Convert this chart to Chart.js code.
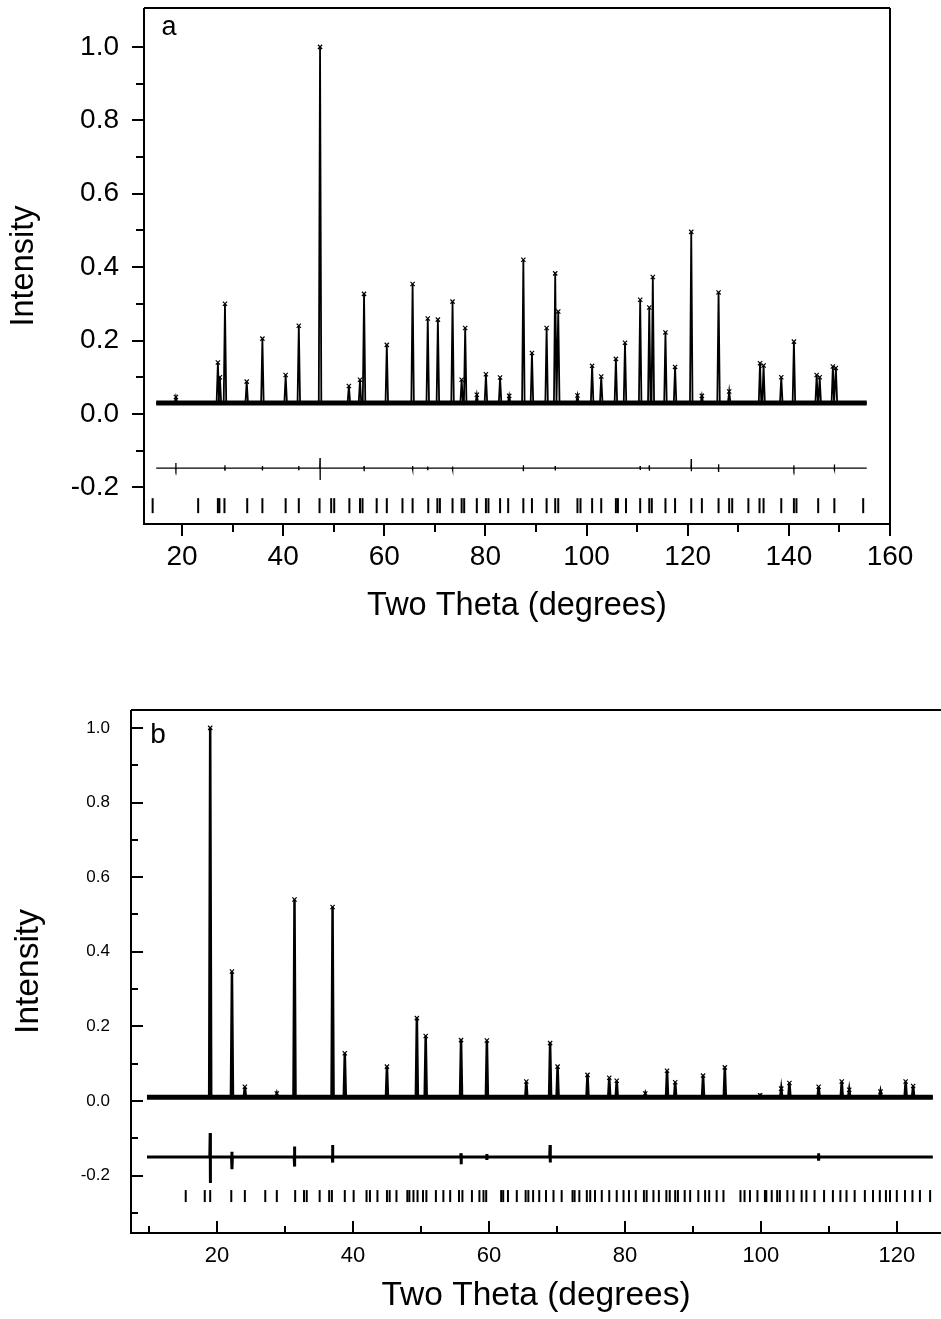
<!DOCTYPE html>
<html>
<head>
<meta charset="utf-8">
<script src="https://cdn.jsdelivr.net/npm/chart.js@4.4.0/dist/chart.umd.min.js"></script>
<style>
  html, body { margin: 0; padding: 0; background: #fff; }
  .panel { position: absolute; left: 0; width: 941px; }
  #wrapA { top: 0; height: 650px; }
  #wrapB { top: 650px; height: 669px; }
</style>
</head>
<body>
<div class="panel" id="wrapA"><canvas id="chartA"></canvas></div>
<div class="panel" id="wrapB"><canvas id="chartB"></canvas></div>
<script>
// ---- panel a: peak positions (2theta) and heights ----
const peakPosA = [18.8, 27.1, 27.5, 28.5, 32.8, 35.9, 40.5, 43.1, 47.3, 53.0, 55.2, 56.0, 60.5, 65.6, 68.6, 70.6,
  73.5, 75.3, 76.0, 78.3, 80.1, 82.9, 84.7, 87.5, 89.2, 92.1, 93.8, 94.4, 98.2, 101.1, 102.9, 105.8, 107.6,
  110.6, 112.4, 113.1, 115.6, 117.5, 120.7, 122.8, 126.1, 128.2, 134.3, 135.0, 138.5, 141.0, 145.5, 146.1, 148.7, 149.3];
const peakHtA = [0.046, 0.14, 0.10, 0.30, 0.088, 0.205, 0.106, 0.24, 1.0, 0.076, 0.093, 0.327, 0.188, 0.354, 0.26, 0.257,
  0.306, 0.093, 0.234, 0.052, 0.108, 0.099, 0.049, 0.42, 0.166, 0.234, 0.383, 0.279, 0.05, 0.131, 0.102, 0.15, 0.194,
  0.311, 0.29, 0.373, 0.222, 0.128, 0.496, 0.049, 0.331, 0.061, 0.138, 0.132, 0.1, 0.197, 0.106, 0.1, 0.129, 0.125];
const rangeA = [14.9, 155.4];
const baseA = 0.03;
// difference curve spikes
const diffBaseA = -0.148;
const diffPosA = [18.8, 28.5, 35.9, 43.1, 47.3, 56.0, 65.6, 68.6, 73.5, 87.5, 93.8, 110.6, 112.4, 120.7, 126.1, 141.0, 149.0];
const diffHiA = [-0.134, -0.14, -0.142, -0.142, -0.12, -0.142, -0.142, -0.143, -0.143, -0.14, -0.142, -0.142, -0.14, -0.123, -0.137, -0.14, -0.138];
const diffLoA = [-0.152, -0.155, -0.154, -0.153, -0.18, -0.156, -0.153, -0.153, -0.153, -0.156, -0.154, -0.153, -0.155, -0.156, -0.158, -0.152, -0.152];
// Bragg reflection marks
const reflA = [14.2, 23.2, 27.1, 27.4, 28.4, 32.9, 35.9, 40.5, 43.1, 47.2, 49.5, 50.1, 53.1, 55.2, 55.7, 58.5, 60.5,
  63.6, 65.6, 68.7, 70.5, 71.0, 73.5, 75.3, 75.8, 78.3, 80.1, 80.6, 82.9, 84.5, 87.5, 89.2, 92.1, 93.8, 94.4, 98.2,
  98.8, 101.1, 102.9, 105.8, 106.2, 107.8, 110.6, 112.4, 112.9, 115.6, 117.5, 120.7, 122.8, 126.1, 128.2, 128.8,
  132.0, 134.2, 135.0, 138.5, 141.0, 141.5, 145.8, 149.0, 154.7];
const reflLevelA = -0.25;
const xTicksA = [20, 40, 60, 80, 100, 120, 140, 160];
const xMinorA = [30, 50, 70, 90, 110, 130, 150];
const yTicksA = [-0.2, 0.0, 0.2, 0.4, 0.6, 0.8, 1.0];
const yMinorA = [-0.1, 0.1, 0.3, 0.5, 0.7, 0.9];

// ---- panel b ----
const peakPosB = [19.0, 22.2, 24.1, 28.8, 31.4, 37.0, 38.8, 45.0, 49.4, 50.7, 55.9, 59.7, 65.5, 69.0, 70.1, 74.5,
  77.7, 78.8, 83.0, 86.2, 87.4, 91.5, 94.7, 99.9, 103.0, 104.2, 108.5, 111.9, 113.0, 117.6, 121.3, 122.4];
const peakHtB = [1.0, 0.347, 0.038, 0.02, 0.54, 0.52, 0.128, 0.092, 0.222, 0.174, 0.163, 0.162, 0.052, 0.155, 0.092, 0.07,
  0.062, 0.054, 0.02, 0.081, 0.05, 0.068, 0.09, 0.015, 0.033, 0.048, 0.038, 0.052, 0.03, 0.025, 0.052, 0.04];
const rangeB = [9.7, 125.3];
const baseB = 0.01;
const diffBaseB = -0.15;
const diffPosB = [19.0, 22.2, 31.4, 37.0, 55.9, 59.7, 69.0, 108.5];
const diffHiB = [-0.086, -0.136, -0.122, -0.118, -0.14, -0.142, -0.118, -0.14];
const diffLoB = [-0.22, -0.183, -0.176, -0.165, -0.17, -0.158, -0.165, -0.16];
const reflB = [15.4, 18.2, 19.0, 22.1, 24.1, 27.1, 28.8, 31.5, 32.8, 33.2, 35.1, 36.5, 36.9, 38.8, 40.1, 42.0, 42.5,
  43.6, 45.0, 45.4, 46.4, 48.0, 48.3, 48.9, 49.5, 50.3, 50.8, 52.2, 53.3, 54.3, 55.6, 56.1, 57.5, 58.6, 59.2, 59.6,
  61.8, 62.1, 62.8, 64.1, 65.4, 65.8, 66.5, 67.4, 68.4, 69.5, 70.7, 72.3, 72.6, 73.3, 74.4, 74.9, 75.6, 76.6, 77.7,
  78.8, 79.8, 80.6, 81.6, 82.8, 83.2, 84.2, 85.0, 86.1, 86.6, 87.4, 87.8, 88.8, 89.6, 90.8, 91.8, 92.4, 93.5, 94.5,
  97.0, 97.6, 98.4, 99.5, 100.6, 100.8, 101.6, 102.4, 102.8, 103.9, 104.8, 106.0, 106.7, 107.9, 109.3, 110.6, 111.7,
  112.6, 113.8, 115.3, 116.5, 117.5, 118.4, 119.0, 120.0, 121.2, 122.3, 123.4, 124.9];
const reflLevelB = -0.255;
const xTicksB = [20, 40, 60, 80, 100, 120];
const xMinorB = [10, 30, 50, 70, 90, 110];
const yTicksB = [-0.2, 0.0, 0.2, 0.4, 0.6, 0.8, 1.0];
const yMinorB = [-0.3, -0.1, 0.1, 0.3, 0.5, 0.7, 0.9];

Chart.defaults.font.family = "'Liberation Sans', Arial, sans-serif";
Chart.defaults.color = '#000';

// calculated profile: narrow peaks on a flat background
function profile(pos, ht, base, hw, range) {
  const pts = [{ x: range[0], y: base }];
  pos.forEach((p, i) => {
    pts.push({ x: p - hw, y: base }, { x: p, y: ht[i] }, { x: p + hw, y: base });
  });
  pts.push({ x: range[1], y: base });
  return pts;
}

function diffCurve(pos, hi, lo, base, range) {
  const pts = [{ x: range[0], y: base }];
  pos.forEach((p, i) => {
    pts.push({ x: p - 0.06, y: base }, { x: p, y: hi[i] }, { x: p, y: lo[i] }, { x: p + 0.06, y: base });
  });
  pts.push({ x: range[1], y: base });
  return pts;
}

// frame + tick marks (major/minor) + panel letter
const frameTicks = {
  id: 'frameTicks',
  afterDraw(chart, args, o) {
    const { ctx, chartArea: a, scales: { x, y } } = chart;
    ctx.save();
    ctx.strokeStyle = '#000';
    ctx.lineWidth = 2;
    ctx.beginPath();
    ctx.moveTo(a.left, a.top); ctx.lineTo(a.right, a.top);
    ctx.moveTo(a.left, a.top); ctx.lineTo(a.left, a.bottom); ctx.lineTo(a.right, a.bottom);
    if (o.rightEdge) { ctx.moveTo(a.right, a.top); ctx.lineTo(a.right, a.bottom); }
    const d = o.inward ? -1 : 1;
    const xt = (vals, len) => vals.forEach(v => {
      const px = Math.round(x.getPixelForValue(v));
      ctx.moveTo(px, a.bottom); ctx.lineTo(px, a.bottom + d * len);
    });
    const yt = (vals, len) => vals.forEach(v => {
      const py = Math.round(y.getPixelForValue(v));
      ctx.moveTo(a.left, py); ctx.lineTo(a.left - d * len, py);
    });
    xt(o.xMajor, o.major); xt(o.xMinor, o.minor);
    yt(o.yMajor, o.major); yt(o.yMinor, o.minor);
    ctx.stroke();
    ctx.font = o.letterFont;
    ctx.fillStyle = '#000';
    ctx.textAlign = 'center';
    ctx.textBaseline = 'middle';
    ctx.fillText(o.letter, a.left + o.letterDx, a.top + o.letterDy);
    ctx.restore();
  }
};

function makeChart(id, p) {
  return new Chart(document.getElementById(id), {
    type: 'scatter',
    data: {
      datasets: [
        { data: [{ x: p.range[0], y: p.base }, { x: p.range[1], y: p.base }], showLine: true,
          borderColor: '#000', borderWidth: p.bandWidth, pointRadius: 0 },
        { data: profile(p.pos, p.ht, p.base, p.hw, p.range), showLine: true,
          borderColor: '#000', borderWidth: p.lineWidth, pointRadius: 0 },
        { data: p.pos.map((v, i) => ({ x: v, y: p.ht[i] })), pointStyle: 'crossRot',
          pointRadius: 3, borderColor: '#000', borderWidth: 1.2 },
        { data: diffCurve(p.diffPos, p.diffHi, p.diffLo, p.diffBase, p.range), showLine: true,
          borderColor: '#000', borderWidth: p.diffWidth, pointRadius: 0 },
        { data: p.refl.map(v => ({ x: v, y: p.reflLevel })), pointStyle: 'line', rotation: 90,
          pointRadius: p.reflLen, borderColor: '#000', borderWidth: 2 }
      ]
    },
    options: {
      responsive: true,
      maintainAspectRatio: false,
      animation: false,
      devicePixelRatio: 1,
      layout: { padding: p.pad, autoPadding: false },
      plugins: {
        legend: { display: false },
        tooltip: { enabled: false },
        frameTicks: {
          inward: p.inward, major: p.tickMajor, minor: p.tickMinor, rightEdge: p.rightEdge,
          xMajor: p.xTicks, xMinor: p.xMinor, yMajor: p.yTicks, yMinor: p.yMinor,
          letter: p.letter, letterFont: p.letterFont, letterDx: p.letterDx, letterDy: p.letterDy
        }
      },
      scales: {
        x: {
          type: 'linear', min: p.xMin, max: p.xMax,
          grid: { display: false }, border: { display: false },
          afterBuildTicks: s => { s.ticks = p.xTicks.map(v => ({ value: v })); },
          afterFit: s => { s.height = p.xHeight; s.paddingLeft = 0; s.paddingRight = 0; },
          ticks: { font: { size: p.xTickSize }, padding: p.xTickPad, maxRotation: 0, autoSkip: false,
            callback: v => String(v) },
          title: { display: true, text: 'Two Theta (degrees)', font: { size: p.titleSize },
            padding: { top: 0, bottom: p.xTitlePad } }
        },
        y: {
          type: 'linear', min: p.yMin, max: p.yMax,
          grid: { display: false }, border: { display: false },
          afterBuildTicks: s => { s.ticks = p.yTicks.map(v => ({ value: v })); },
          afterFit: s => { s.width = p.yWidth; s.paddingTop = 0; s.paddingBottom = 0; },
          ticks: { font: { size: p.yTickSize }, padding: p.yTickPad, callback: v => v.toFixed(1) },
          title: { display: true, text: 'Intensity', font: { size: p.titleSize },
            padding: { top: p.yTitlePad, bottom: 0 } }
        }
      }
    },
    plugins: [frameTicks]
  });
}

makeChart('chartA', {
  pos: peakPosA, ht: peakHtA, base: baseA, range: rangeA, hw: 0.25,
  diffPos: diffPosA, diffHi: diffHiA, diffLo: diffLoA, diffBase: diffBaseA,
  refl: reflA, reflLevel: reflLevelA, reflLen: 7.5,
  bandWidth: 5, lineWidth: 1.8, diffWidth: 1.3,
  xMin: 12.49, xMax: 160, yMin: -0.3, yMax: 1.106,
  xTicks: xTicksA, xMinor: xMinorA, yTicks: yTicksA, yMinor: yMinorA,
  pad: { top: 8, right: 51, bottom: 0, left: 0 },
  xHeight: 126, yWidth: 144,
  xTickSize: 28, yTickSize: 28, xTickPad: 8, yTickPad: 17,
  titleSize: 32.5, xTitlePad: 24, yTitlePad: 5,
  inward: false, tickMajor: 12, tickMinor: 8, rightEdge: true,
  letter: 'a', letterFont: '27px "Liberation Sans", Arial, sans-serif', letterDx: 25, letterDy: 20
});

makeChart('chartB', {
  pos: peakPosB, ht: peakHtB, base: baseB, range: rangeB, hw: 0.15,
  diffPos: diffPosB, diffHi: diffHiB, diffLo: diffLoB, diffBase: diffBaseB,
  refl: reflB, reflLevel: reflLevelB, reflLen: 6,
  bandWidth: 5, lineWidth: 2.5, diffWidth: 3,
  xMin: 7.35, xMax: 126.5, yMin: -0.354, yMax: 1.048,
  xTicks: xTicksB, xMinor: xMinorB, yTicks: yTicksB, yMinor: yMinorB,
  pad: { top: 60, right: 0, bottom: 0, left: 0 },
  xHeight: 86, yWidth: 131,
  xTickSize: 22, yTickSize: 17, xTickPad: 2, yTickPad: 13,
  titleSize: 33.5, xTitlePad: 3, yTitlePad: 9,
  inward: true, tickMajor: 12, tickMinor: 7, rightEdge: false,
  letter: 'b', letterFont: '28px "Liberation Sans", Arial, sans-serif', letterDx: 27, letterDy: 25
});
</script>
</body>
</html>
